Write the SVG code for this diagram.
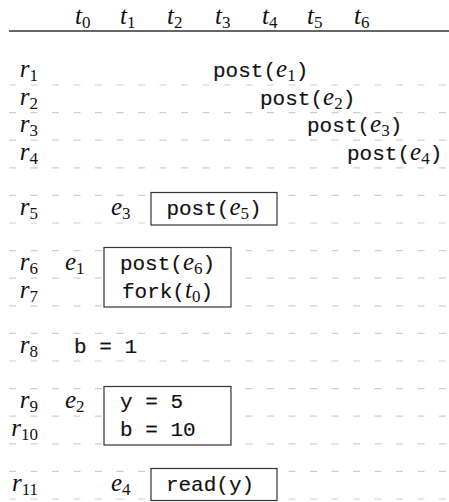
<svg xmlns="http://www.w3.org/2000/svg" width="449" height="502" viewBox="0 0 449 502">
<style>
.mi{font-family:"Liberation Serif","DejaVu Serif",serif;font-style:italic;font-size:25px;fill:#111}
.sub{font-family:"Liberation Serif","DejaVu Serif",serif;font-style:normal;font-size:17px}
.mono{font-family:"Liberation Mono","DejaVu Sans Mono",monospace;font-size:21px;fill:#111;stroke:#111;stroke-width:0.15}
.mono .mi,.mono .sub{stroke:none}
.dash{stroke:#cfcfcf;stroke-width:1.2;stroke-dasharray:7 14.5;fill:none}
.box{fill:#fff;stroke:#333;stroke-width:1.2}
</style>
<rect width="449" height="502" fill="#fff"/>
<g id="grid">
<line x1="9" y1="31" x2="449" y2="31" stroke="#333" stroke-width="1.3"/>
<path class="dash" d="M9 85H449M9 112.6H449M9 140.2H449M9 167.8H449M9 195.4H449M9 223H449M9 250.6H449M9 278.2H449M9 305.8H449M9 333.4H449M9 361H449M9 388.6H449M9 416.2H449M9 443.8H449M9 471.4H449M9 499H449"/>
</g>
<g id="threads">
<text class="mi" x="75" y="24">t<tspan class="sub" dy="4">0</tspan></text>
<text class="mi" x="120" y="24">t<tspan class="sub" dy="4">1</tspan></text>
<text class="mi" x="167" y="24">t<tspan class="sub" dy="4">2</tspan></text>
<text class="mi" x="215" y="24">t<tspan class="sub" dy="4">3</tspan></text>
<text class="mi" x="262" y="24">t<tspan class="sub" dy="4">4</tspan></text>
<text class="mi" x="307" y="24">t<tspan class="sub" dy="4">5</tspan></text>
<text class="mi" x="354" y="24">t<tspan class="sub" dy="4">6</tspan></text>
</g>
<g id="rows" text-anchor="end">
<text class="mi" x="38" y="77">r<tspan class="sub" dy="4">1</tspan></text>
<text class="mi" x="38" y="104.6">r<tspan class="sub" dy="4">2</tspan></text>
<text class="mi" x="38" y="132.2">r<tspan class="sub" dy="4">3</tspan></text>
<text class="mi" x="38" y="159.8">r<tspan class="sub" dy="4">4</tspan></text>
<text class="mi" x="38" y="215">r<tspan class="sub" dy="4">5</tspan></text>
<text class="mi" x="38" y="270.2">r<tspan class="sub" dy="4">6</tspan></text>
<text class="mi" x="38" y="297.8">r<tspan class="sub" dy="4">7</tspan></text>
<text class="mi" x="38" y="353">r<tspan class="sub" dy="4">8</tspan></text>
<text class="mi" x="38" y="408.2">r<tspan class="sub" dy="4">9</tspan></text>
<text class="mi" x="38" y="435.8">r<tspan class="sub" dy="4">10</tspan></text>
<text class="mi" x="38" y="491">r<tspan class="sub" dy="4">11</tspan></text>
</g>
<g id="posts">
<text class="mono" x="213" y="77">post(<tspan class="mi">e</tspan><tspan class="sub" dy="4">1</tspan><tspan dy="-4">)</tspan></text>
<text class="mono" x="260" y="104.6">post(<tspan class="mi">e</tspan><tspan class="sub" dy="4">2</tspan><tspan dy="-4">)</tspan></text>
<text class="mono" x="307" y="132.2">post(<tspan class="mi">e</tspan><tspan class="sub" dy="4">3</tspan><tspan dy="-4">)</tspan></text>
<text class="mono" x="347" y="159.8">post(<tspan class="mi">e</tspan><tspan class="sub" dy="4">4</tspan><tspan dy="-4">)</tspan></text>
</g>
<g id="event-e3">
<text class="mi" x="111" y="215">e<tspan class="sub" dy="4">3</tspan></text>
<rect class="box" x="151" y="192.5" width="126" height="32.5"/>
<text class="mono" x="214" y="215" text-anchor="middle">post(<tspan class="mi">e</tspan><tspan class="sub" dy="4">5</tspan><tspan dy="-4">)</tspan></text>
</g>
<g id="event-e1">
<text class="mi" x="65" y="270.2">e<tspan class="sub" dy="4">1</tspan></text>
<rect class="box" x="104" y="247.5" width="127" height="59.5"/>
<text class="mono" x="167.5" y="270.2" text-anchor="middle">post(<tspan class="mi">e</tspan><tspan class="sub" dy="4">6</tspan><tspan dy="-4">)</tspan></text>
<text class="mono" x="167.5" y="297.8" text-anchor="middle">fork(<tspan class="mi">t</tspan><tspan class="sub" dy="4">0</tspan><tspan dy="-4">)</tspan></text>
</g>
<g id="stmt-r8">
<text class="mono" x="74" y="353" xml:space="preserve">b = 1</text>
</g>
<g id="event-e2">
<text class="mi" x="65" y="408.2">e<tspan class="sub" dy="4">2</tspan></text>
<rect class="box" x="104" y="386.5" width="127" height="58.5"/>
<text class="mono" x="120" y="408.2" xml:space="preserve">y = 5</text>
<text class="mono" x="120" y="435.8" xml:space="preserve">b = 10</text>
</g>
<g id="event-e4">
<text class="mi" x="111" y="491">e<tspan class="sub" dy="4">4</tspan></text>
<rect class="box" x="151" y="468.5" width="126" height="32"/>
<text class="mono" x="210" y="491" text-anchor="middle">read(y)</text>
</g>
</svg>
